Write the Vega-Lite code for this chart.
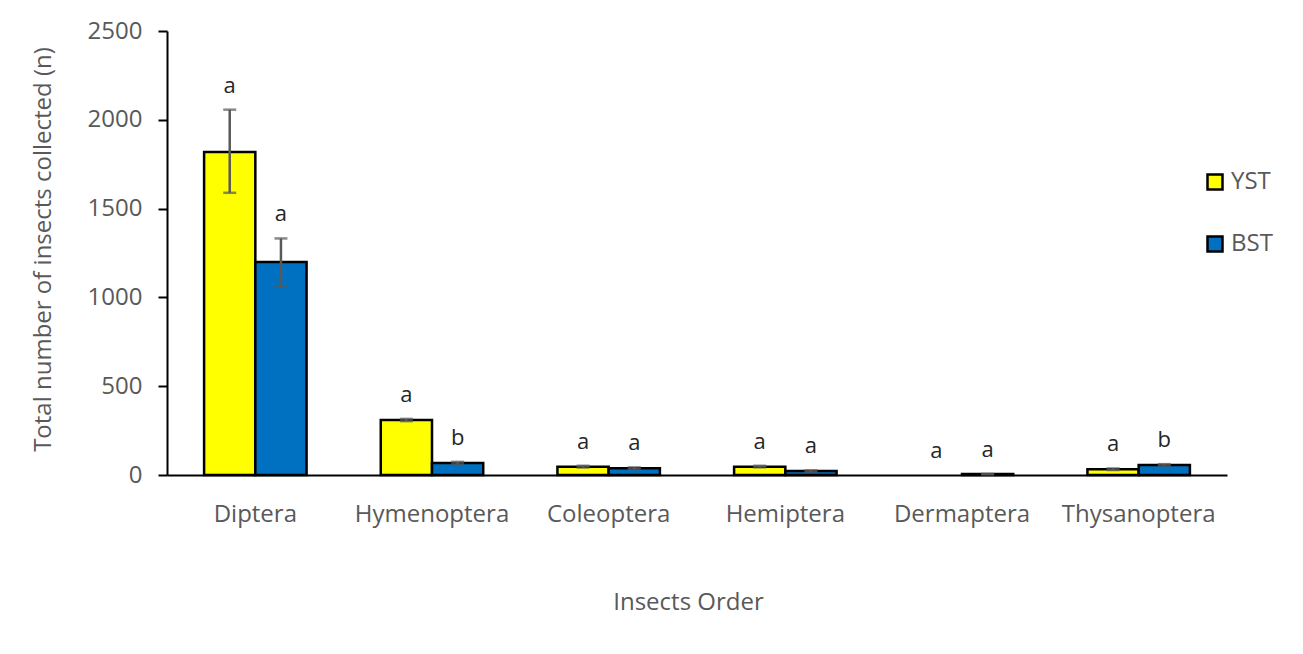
{
  "$schema": "https://vega.github.io/schema/vega-lite/v6.json",
  "width": 1060,
  "height": 444,
  "autosize": "none",
  "padding": {"left": 167, "top": 31, "right": 76, "bottom": 179},
  "background": "white",
  "data": {"values": [
    {"order": "Diptera", "trap": "YST", "mean": 1818, "lo": 1589, "hi": 2057, "sig": "a"},
    {"order": "Diptera", "trap": "BST", "mean": 1200, "lo": 1060, "hi": 1332, "sig": "a"},
    {"order": "Hymenoptera", "trap": "YST", "mean": 310, "lo": 303, "hi": 316, "sig": "a"},
    {"order": "Hymenoptera", "trap": "BST", "mean": 67, "lo": 61, "hi": 74, "sig": "b"},
    {"order": "Coleoptera", "trap": "YST", "mean": 47, "lo": 42, "hi": 52, "sig": "a"},
    {"order": "Coleoptera", "trap": "BST", "mean": 38, "lo": 33, "hi": 43, "sig": "a"},
    {"order": "Hemiptera", "trap": "YST", "mean": 47, "lo": 43, "hi": 52, "sig": "a"},
    {"order": "Hemiptera", "trap": "BST", "mean": 22, "lo": 18, "hi": 26, "sig": "a"},
    {"order": "Dermaptera", "trap": "YST", "mean": 0, "lo": 0, "hi": 0, "sig": "a"},
    {"order": "Dermaptera", "trap": "BST", "mean": 5, "lo": 4, "hi": 6, "sig": "a"},
    {"order": "Thysanoptera", "trap": "YST", "mean": 33, "lo": 28, "hi": 37, "sig": "a"},
    {"order": "Thysanoptera", "trap": "BST", "mean": 57, "lo": 53, "hi": 61, "sig": "b"}
  ]},
  "encoding": {
    "x": {
      "field": "order", "type": "nominal",
      "sort": ["Diptera", "Hymenoptera", "Coleoptera", "Hemiptera", "Dermaptera", "Thysanoptera"],
      "scale": {"paddingInner": 0.42, "paddingOuter": 0.21},
      "axis": {
        "labelAngle": 0, "ticks": false, "domainColor": "black", "domainWidth": 2,
        "labelPadding": 27, "labelFontSize": 24, "labelColor": "#595959", "labelFont": "Open Sans",
        "title": "Insects Order", "titleFont": "Open Sans", "titleFontSize": 24, "titleFontWeight": "normal",
        "titleColor": "#595959", "titleX": 521, "titleY": 127, "titleBaseline": "middle"
      }
    },
    "xOffset": {"field": "trap", "type": "nominal", "sort": ["YST", "BST"], "scale": {"paddingInner": 0, "paddingOuter": 0}}
  },
  "layer": [
    {
      "transform": [{"filter": "datum.mean > 0"}],
      "mark": {"type": "bar", "stroke": "black", "strokeWidth": 2.5},
      "encoding": {
        "y": {
          "field": "mean", "type": "quantitative",
          "scale": {"domain": [0, 2500], "nice": false},
          "axis": {
            "values": [0, 500, 1000, 1500, 2000, 2500], "format": "d", "grid": false,
            "tickSize": 9, "tickWidth": 2, "tickColor": "black", "domainColor": "black", "domainWidth": 2,
            "labelPadding": 16, "labelFontSize": 24, "labelColor": "#595959", "labelFont": "Open Sans",
            "title": "Total number of insects collected (n)", "titleFont": "Open Sans", "titleFontSize": 24,
            "titleFontWeight": "normal", "titleColor": "#595959", "titleX": -124, "titleY": 218, "titleBaseline": "middle"
          }
        },
        "color": {
          "field": "trap", "type": "nominal",
          "scale": {"domain": ["YST", "BST"], "range": ["#FFFF00", "#0070C0"]},
          "legend": {
            "orient": "none", "legendX": 1036, "legendY": 139, "title": null, "padding": 0,
            "symbolType": "square", "symbolSize": 225, "symbolStrokeColor": "black", "symbolStrokeWidth": 2.5,
            "labelFontSize": 24, "labelColor": "#595959", "labelFont": "Open Sans",
            "rowPadding": 36, "labelOffset": 4
          }
        }
      }
    },
    {
      "transform": [{"filter": "datum.mean > 0"}],
      "mark": {"type": "rule", "color": "#595959", "strokeWidth": 2.5},
      "encoding": {
        "y": {"field": "lo", "type": "quantitative"},
        "y2": {"field": "hi"}
      }
    },
    {
      "transform": [{"filter": "datum.mean > 0"}],
      "mark": {"type": "tick", "color": "#595959", "orient": "horizontal", "size": 13, "thickness": 2.5},
      "encoding": {"y": {"field": "lo", "type": "quantitative"}}
    },
    {
      "transform": [{"filter": "datum.mean > 0"}],
      "mark": {"type": "tick", "color": "#595959", "orient": "horizontal", "size": 13, "thickness": 2.5},
      "encoding": {"y": {"field": "hi", "type": "quantitative"}}
    },
    {
      "mark": {"type": "text", "font": "Open Sans", "fontSize": 22, "color": "#262626", "dy": -17, "baseline": "alphabetic"},
      "encoding": {
        "y": {"field": "hi", "type": "quantitative"},
        "text": {"field": "sig"}
      }
    }
  ],
  "config": {"view": {"stroke": null}}
}
